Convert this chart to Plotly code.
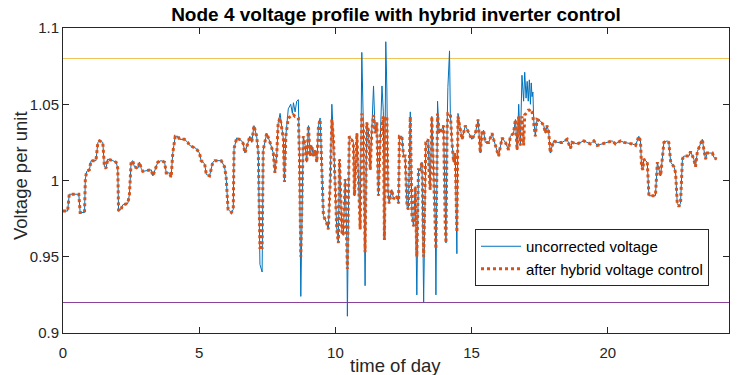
import plotly.graph_objects as go

# time of day (hours)
time_h = [
    0.00, 0.17, 0.23, 0.58, 0.63, 0.79, 0.82, 0.87, 0.97, 1.03, 1.21, 1.28, 1.34, 1.46, 1.48, 1.52, 1.58, 1.64, 1.83, 1.95,
    2.01, 2.04, 2.13, 2.19, 2.38, 2.44, 2.50, 2.56, 2.62, 2.75, 2.81, 2.87, 2.93, 3.24, 3.30, 3.36, 3.48, 3.60, 3.73, 3.79,
    3.91, 3.97, 4.03, 4.12, 4.22, 4.28, 4.46, 4.58, 4.65, 4.89, 5.01, 5.07, 5.20, 5.26, 5.38, 5.50, 5.57, 5.81, 5.93, 5.99,
    6.06, 6.18, 6.25, 6.28, 6.38, 6.56, 6.62, 6.68, 6.80, 6.86, 6.93, 7.01, 7.11, 7.17, 7.23, 7.31, 7.35, 7.48, 7.60, 7.72,
    7.78, 7.85, 7.90, 7.97, 8.09, 8.13, 8.18, 8.27, 8.36, 8.42, 8.46, 8.52, 8.58, 8.64, 8.68, 8.73, 8.82, 8.89, 8.95, 9.01,
    9.07, 9.13, 9.19, 9.25, 9.32, 9.38, 9.44, 9.50, 9.56, 9.68, 9.74, 9.81, 9.87, 9.93, 9.99, 10.05, 10.11, 10.15, 10.24, 10.29,
    10.36, 10.42, 10.44, 10.51, 10.60, 10.66, 10.70, 10.79, 10.91, 10.97, 11.03, 11.09, 11.15, 11.21, 11.28, 11.34, 11.40, 11.46, 11.52, 11.58,
    11.64, 11.71, 11.76, 11.80, 11.85, 11.89, 11.93, 11.97, 12.07, 12.13, 12.26, 12.32, 12.35, 12.44, 12.50, 12.56, 12.63, 12.68, 12.75, 12.81,
    12.87, 12.93, 12.99, 13.05, 13.11, 13.18, 13.24, 13.32, 13.40, 13.44, 13.48, 13.54, 13.60, 13.67, 13.69, 13.75, 13.81, 13.89, 13.97, 14.03,
    14.06, 14.10, 14.13, 14.19, 14.22, 14.28, 14.34, 14.40, 14.46, 14.50, 14.58, 14.65, 14.77, 14.89, 15.01, 15.14, 15.24, 15.32, 15.38, 15.44,
    15.50, 15.63, 15.75, 15.81, 15.93, 15.99, 16.12, 16.24, 16.36, 16.42, 16.54, 16.61, 16.67, 16.73, 16.79, 16.85, 16.91, 16.95, 17.00, 17.04,
    17.08, 17.12, 17.16, 17.19, 17.22, 17.25, 17.28, 17.34, 17.40, 17.53, 17.65, 17.71, 17.77, 17.83, 17.89, 17.96, 18.01, 18.14, 18.32, 18.51,
    18.63, 18.69, 18.88, 19.12, 19.36, 19.49, 19.61, 19.79, 19.98, 20.16, 20.28, 20.47, 20.59, 20.90, 21.02, 21.14, 21.20, 21.24, 21.29, 21.32,
    21.45, 21.51, 21.75, 21.82, 21.88, 21.94, 22.00, 22.06, 22.18, 22.24, 22.31, 22.43, 22.49, 22.55, 22.61, 22.67, 22.74, 22.79, 22.98, 23.04,
    23.16, 23.22, 23.29, 23.41, 23.47, 23.53, 23.59, 23.65, 23.84, 23.90, 24.00,
]

# voltage after hybrid voltage control (p.u.)
v_controlled = [
    0.980, 0.980, 0.991, 0.991, 0.979, 0.979, 1.001, 1.006, 1.007, 1.013, 1.013, 1.025, 1.026, 1.025, 1.020, 1.009, 1.008, 1.014, 1.013, 1.012,
    1.008, 0.980, 0.981, 0.984, 0.985, 0.991, 1.012, 1.013, 1.009, 1.008, 1.012, 1.008, 1.006, 1.007, 1.003, 1.006, 1.012, 1.013, 1.012, 1.005,
    1.005, 1.002, 1.018, 1.029, 1.029, 1.027, 1.027, 1.025, 1.023, 1.021, 1.018, 1.013, 1.011, 1.004, 1.003, 1.012, 1.013, 1.013, 1.009, 1.002,
    0.981, 0.979, 0.981, 1.021, 1.028, 1.026, 1.024, 1.018, 1.025, 1.029, 1.025, 1.036, 1.029, 1.018, 0.956, 0.956, 1.020, 1.031, 1.025, 1.018,
    1.005, 1.018, 1.038, 1.041, 1.027, 0.999, 1.029, 1.041, 1.042, 1.042, 1.043, 1.042, 1.042, 1.041, 1.016, 0.950, 1.029, 1.023, 1.012, 1.036,
    1.016, 1.023, 1.016, 1.020, 1.012, 1.036, 1.040, 1.007, 0.977, 0.972, 0.968, 0.999, 1.040, 1.027, 0.994, 0.968, 0.959, 1.014, 0.966, 0.964,
    1.001, 0.961, 0.942, 1.029, 1.027, 1.025, 0.990, 1.031, 0.968, 1.044, 1.033, 0.953, 1.038, 1.033, 1.007, 1.033, 1.043, 1.031, 1.038, 0.990,
    1.027, 1.036, 1.042, 0.961, 1.042, 1.042, 0.994, 0.985, 0.994, 0.988, 0.990, 0.985, 1.029, 1.029, 1.016, 1.016, 0.983, 0.981, 1.042, 0.977,
    0.970, 0.996, 0.950, 1.007, 1.007, 1.012, 0.950, 1.025, 1.027, 1.005, 0.994, 1.042, 1.007, 0.972, 0.955, 1.044, 1.031, 1.033, 1.036, 0.972,
    0.959, 1.033, 1.044, 1.044, 1.044, 1.025, 1.012, 1.018, 0.966, 1.042, 1.033, 1.027, 1.036, 1.031, 1.027, 1.031, 1.040, 1.018, 1.031, 1.033,
    1.025, 1.025, 1.031, 1.027, 1.020, 1.016, 1.028, 1.025, 1.020, 1.029, 1.031, 1.040, 1.020, 1.042, 1.023, 1.042, 1.023, 1.043, 1.044, 1.045,
    1.046, 1.046, 1.047, 1.046, 1.045, 1.042, 1.038, 1.029, 1.040, 1.039, 1.036, 1.031, 1.036, 1.032, 1.018, 1.023, 1.026, 1.025, 1.025, 1.027,
    1.021, 1.025, 1.024, 1.026, 1.024, 1.026, 1.023, 1.024, 1.025, 1.026, 1.024, 1.026, 1.025, 1.024, 1.023, 1.029, 1.026, 1.009, 1.007, 1.014,
    1.012, 0.990, 0.990, 1.012, 1.007, 1.003, 1.014, 1.025, 1.026, 1.025, 1.012, 1.009, 1.005, 0.985, 0.983, 0.985, 1.014, 1.016, 1.016, 1.019,
    1.014, 1.009, 1.019, 1.024, 1.027, 1.020, 1.014, 1.018, 1.018, 1.015, 1.014,
]

# uncorrected voltage (p.u.)
v_uncorrected = [
    0.980, 0.980, 0.991, 0.991, 0.979, 0.979, 1.001, 1.006, 1.007, 1.013, 1.013, 1.025, 1.026, 1.025, 1.020, 1.009, 1.008, 1.014, 1.013, 1.012,
    1.008, 0.980, 0.981, 0.984, 0.985, 0.991, 1.012, 1.013, 1.009, 1.008, 1.012, 1.008, 1.006, 1.007, 1.003, 1.006, 1.012, 1.013, 1.012, 1.005,
    1.005, 1.002, 1.018, 1.029, 1.029, 1.027, 1.027, 1.025, 1.023, 1.021, 1.018, 1.013, 1.011, 1.004, 1.003, 1.012, 1.013, 1.013, 1.009, 1.002,
    0.981, 0.979, 0.981, 1.021, 1.028, 1.026, 1.024, 1.018, 1.025, 1.029, 1.025, 1.036, 1.029, 1.018, 0.945, 0.940, 1.020, 1.031, 1.025, 1.018,
    1.005, 1.018, 1.038, 1.044, 1.027, 0.999, 1.029, 1.047, 1.050, 1.044, 1.051, 1.045, 1.052, 1.053, 1.016, 0.924, 1.029, 1.023, 1.012, 1.036,
    1.016, 1.023, 1.016, 1.020, 1.012, 1.036, 1.041, 1.007, 0.977, 0.972, 0.968, 0.999, 1.050, 1.027, 0.994, 0.968, 0.959, 1.014, 0.966, 0.964,
    1.001, 0.961, 0.911, 1.029, 1.027, 1.025, 0.990, 1.031, 0.968, 1.084, 1.033, 0.931, 1.038, 1.033, 1.007, 1.033, 1.062, 1.031, 1.038, 0.990,
    1.027, 1.062, 1.045, 0.961, 1.091, 1.060, 0.994, 0.985, 0.994, 0.988, 0.990, 0.985, 1.029, 1.029, 1.016, 1.016, 0.983, 0.981, 1.045, 0.977,
    0.970, 0.996, 0.925, 1.007, 1.007, 1.012, 0.920, 1.025, 1.027, 1.005, 0.994, 1.042, 1.007, 0.972, 0.925, 1.052, 1.031, 1.033, 1.036, 0.972,
    0.959, 1.033, 1.061, 1.085, 1.044, 1.025, 1.012, 1.018, 0.952, 1.044, 1.033, 1.027, 1.036, 1.031, 1.027, 1.031, 1.040, 1.018, 1.031, 1.033,
    1.025, 1.025, 1.031, 1.027, 1.020, 1.016, 1.028, 1.025, 1.020, 1.029, 1.031, 1.040, 1.020, 1.050, 1.023, 1.069, 1.052, 1.071, 1.054, 1.065,
    1.052, 1.066, 1.050, 1.064, 1.055, 1.058, 1.040, 1.029, 1.040, 1.039, 1.036, 1.031, 1.036, 1.032, 1.018, 1.023, 1.026, 1.025, 1.025, 1.027,
    1.021, 1.025, 1.024, 1.026, 1.024, 1.026, 1.023, 1.024, 1.025, 1.026, 1.024, 1.026, 1.025, 1.024, 1.023, 1.029, 1.026, 1.009, 1.007, 1.014,
    1.012, 0.990, 0.990, 1.012, 1.007, 1.003, 1.014, 1.025, 1.026, 1.025, 1.012, 1.009, 1.005, 0.985, 0.983, 0.985, 1.014, 1.016, 1.016, 1.019,
    1.014, 1.009, 1.019, 1.024, 1.027, 1.020, 1.014, 1.018, 1.018, 1.015, 1.014,
]

upper_limit = 1.08
lower_limit = 0.92

x_ticks = [0, 5, 10, 15, 20]
y_ticks = [0.9, 0.95, 1.0, 1.05, 1.1]
y_tick_labels = ["0.9", "0.95", "1", "1.05", "1.1"]

FONT = "Liberation Sans, Arial, Helvetica, sans-serif"
AX = "#262626"
W, H = 747, 375
ML, MR, MT, MB = 63, 18, 28, 42

fig = go.Figure()
fig.add_trace(go.Scatter(
    x=time_h, y=v_uncorrected, mode="lines", name="uncorrected voltage",
    line=dict(color="#0072BD", width=1),
))
fig.add_trace(go.Scatter(
    x=time_h, y=v_controlled, mode="lines", name="after hybrid voltage control",
    line=dict(color="#D95319", width=3, dash="dot"),
))

fig.add_shape(type="line", xref="paper", x0=0, x1=1, yref="y", y0=upper_limit, y1=upper_limit,
              line=dict(color="#EDB120", width=1), opacity=0.75, layer="below")
fig.add_shape(type="line", xref="paper", x0=0, x1=1, yref="y", y0=lower_limit, y1=lower_limit,
              line=dict(color="#7E2F8E", width=1), opacity=0.9, layer="below")

axis_common = dict(
    showgrid=False, zeroline=False, showline=True, linecolor=AX, linewidth=1,
    mirror="ticks", ticks="inside", ticklen=6, tickwidth=1, tickcolor=AX,
    tickfont=dict(family=FONT, size=15, color=AX), automargin=False,
)

plot_w = W - ML - MR
plot_h = H - MT - MB

# axis titles as annotations for precise placement
fig.add_annotation(
    text="time of day", xref="paper", yref="paper",
    x=(395 - ML) / plot_w, y=-(365 - (H - MB)) / plot_h,
    xanchor="center", yanchor="middle", showarrow=False,
    font=dict(family=FONT, size=18.5, color=AX),
)
fig.add_annotation(
    text="Voltage per unit", xref="paper", yref="paper",
    x=-(ML - 20) / plot_w, y=((H - MB) - 176) / plot_h,
    xanchor="center", yanchor="middle", showarrow=False, textangle=-90,
    font=dict(family=FONT, size=18.5, color=AX),
)

fig.update_layout(
    width=W, height=H,
    margin=dict(l=ML, r=MR, t=MT, b=MB),
    paper_bgcolor="white", plot_bgcolor="white",
    font=dict(family=FONT, color=AX),
    title=dict(
        text="<b>Node 4 voltage profile with hybrid inverter control</b>",
        font=dict(family=FONT, size=19, color="black"),
        x=0.5, xanchor="center", xref="paper", y=1 - 14 / H, yanchor="middle",
    ),
    xaxis=dict(range=[0, 24.45], tickvals=x_ticks, ticklabelstandoff=6, **axis_common),
    yaxis=dict(range=[0.9, 1.1], tickvals=y_ticks, ticktext=y_tick_labels, **axis_common),
    showlegend=True,
    legend=dict(
        x=(709 - ML) / plot_w, xanchor="right", y=((H - MB) - 229) / plot_h, yanchor="top",
        bgcolor="white", bordercolor=AX, borderwidth=1,
        font=dict(family=FONT, size=15, color="black"),
        tracegroupgap=0, itemwidth=40,
    ),
)

fig.write_html("out.html", config={"displayModeBar": False},
               post_script="document.body.style.margin='0';")
